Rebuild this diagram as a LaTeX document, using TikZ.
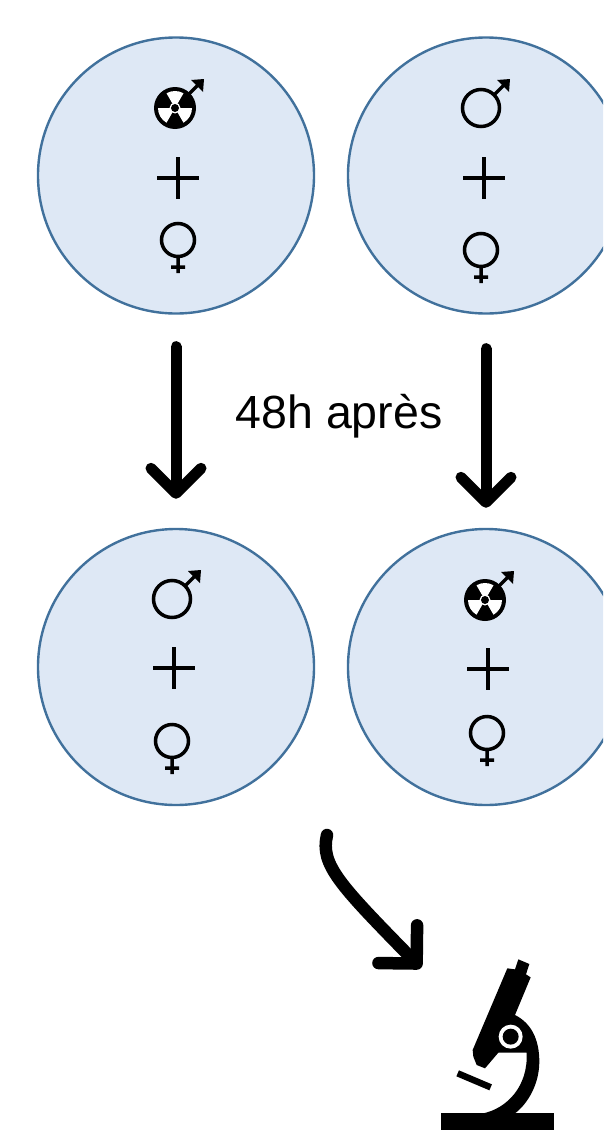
\documentclass[tikz,border=0pt]{standalone}
\usepackage{fontspec}
\setmainfont{Liberation Sans}
\usetikzlibrary{arrows.meta}
\definecolor{tubefill}{HTML}{DEE8F5}
\definecolor{tubeline}{HTML}{41719C}
\tikzset{x=1pt,y=-1pt,
tube/.style={ % One vial
circle,
inner sep=0pt,
minimum size=276pt,
fill=tubefill,
draw=tubeline,
line width=2.4pt},
bigarrow/.style={
draw,
-{Straight Barb[length=25pt,width=50pt,round]},
line width=11pt,
line cap=round},
plussign/.pic={
\draw[line width=4.5pt] (-21,0) -- (21,0) (0,-21) -- (0,21);},
femalesign/.pic={
\draw[line width=3.5pt] (0,0) circle (16.5) (0,16.5) -- (0,33) (-7,27) -- (7,27);},
malehead/.pic={
\draw[line width=3.5pt] (13,-13) -- (23,-23);
\fill (29,-29) -- (16,-28) -- (28,-16) -- cycle;},
malesign/.pic={
\draw[line width=3.5pt] (0,0) circle (18.5);
\pic {malehead};},
hotmalesign/.pic={
\fill (0,0) circle (21);
\foreach \ang in {-90,30,150}
\fill[white] (0,0) -- (\ang-30:17) arc[start angle=\ang-30,end angle=\ang+30,radius=17] -- cycle;
\fill[white] (0,0) circle (5.5);
\fill (0,0) circle (4);
\pic {malehead};},
scopepic/.pic={
% drawn on a third of a pixel
\begin{scope}[x=0.3333pt,y=-0.3333pt]
\fill (62,520) rectangle (402,570);
\fill (295,58) -- (328,72) -- (318,103) -- (332,112) -- (285,225)
 .. controls (335,250) and (358,300) .. (358,365)
 .. controls (358,430) and (325,490) .. (285,520) -- (190,520)
 .. controls (260,505) and (325,440) .. (320,338) -- (235,338)
 -- (195,385) -- (170,375) -- (160,350) -- (158,330) -- (262,85) -- (285,88) -- cycle;
\draw[line width=6.5pt] (113,400) -- (212,442);
\fill[white] (272,290) circle (36);
\fill (272,290) circle (24);
\end{scope}}}

\begin{document}
\begin{tikzpicture}
	\clip (0,0) rectangle (603,1132);

	\node[tube] (a1) at (176,175.5) {};
	\node[tube] (a2) at (486,175.5) {};
	\node[tube] (b1) at (176,667) {};
	\node[tube] (b2) at (486,667) {};

	\pic at (175,108) {hotmalesign};
	\pic at (178,178) {plussign};
	\pic at (178,240) {femalesign};

	\pic at (481,108) {malesign};
	\pic at (484,178) {plussign};
	\pic at (481,250) {femalesign};

	\pic at (172,599) {malesign};
	\pic at (174,668) {plussign};
	\pic at (172,741) {femalesign};

	\pic at (485,600) {hotmalesign};
	\pic at (488,669) {plussign};
	\pic at (487,733) {femalesign};

	\node[font=\fontsize{46.5}{46.5}\selectfont] (delay) at (339,416) {48h après};

	\draw[bigarrow,shorten <=32pt,shorten >=29pt] (a1) -- (b1);
	\draw[bigarrow,shorten <=34pt,shorten >=20pt] (a2) -- (b2);

	\coordinate (start) at (327,835);
	\coordinate (micro) at (420,940);
	\coordinate (end) at (421,968);
	\draw[bigarrow,line width=12.5pt,-{Straight Barb[length=27pt,width=54pt,round]}] (start) .. controls (320,865) and (340,885) .. (end);

	\pic at (micro) {scopepic};
\end{tikzpicture}
\end{document}
